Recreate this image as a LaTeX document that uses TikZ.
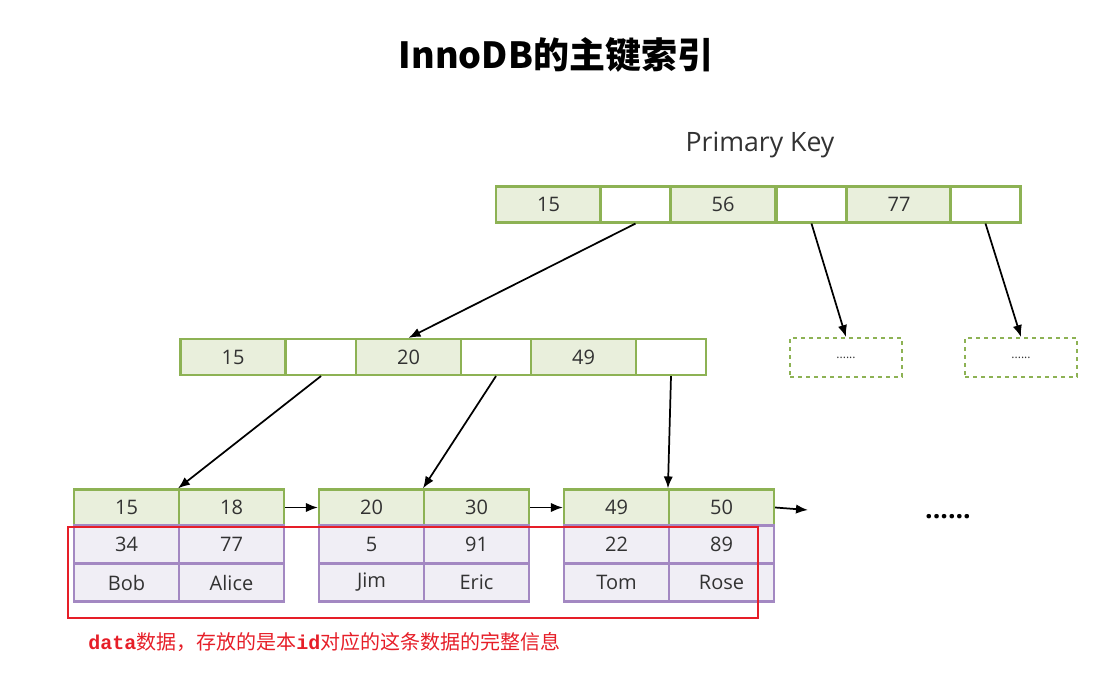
\documentclass[tikz,border=0pt]{standalone}
\usepackage{fontspec}
\setmainfont{Open Sans}
\newfontfamily\cjk{Noto Sans CJK SC}
\newfontfamily\monob{Liberation Mono}
\definecolor{keygreen}{RGB}{141,178,84}
\definecolor{keyfill}{RGB}{233,239,220}
\definecolor{datapurple}{RGB}{163,136,194}
\definecolor{datafill}{RGB}{240,238,245}
\definecolor{textgray}{RGB}{50,50,50}
\definecolor{capred}{RGB}{230,30,40}
\tikzset{
  cell/.style={draw=keygreen, line width=1.6pt, minimum height=27pt, inner sep=0pt,
    text=textgray, font=\fontsize{15}{15}\selectfont},
  key/.style={cell, fill=keyfill, minimum width=78.75pt},
  ptr/.style={cell, fill=white, minimum width=52.5pt},
  data/.style={cell, draw=datapurple, fill=datafill, minimum width=78.75pt, minimum height=28.5pt},
  more/.style={draw=keygreen, dashed, line width=1.6pt, minimum width=84pt, minimum height=29pt,
    font=\small, text=textgray},
  link/.style={-{Latex[length=9pt,width=7pt]}, line width=1.3pt}
}
\usetikzlibrary{arrows.meta}
\begin{document}
\begin{tikzpicture}[x=0.75pt,y=-0.75pt]
  \useasboundingbox (0,0) rectangle (1106,673);
  \node (title) at (556,55) {\cjk\bfseries\fontsize{27}{27}\selectfont InnoDB的主键索引};
  \node[text=textgray] (pk) at (760,145) {\fontsize{20}{20}\selectfont Primary Key};
  % root page
  \node[key] (r1) at (548.5,204.5) {15};
  \node[ptr] (r2) at (635.5,204.5) {};
  \node[key] (r3) at (723,204.5) {56};
  \node[ptr] (r4) at (811.5,204.5) {};
  \node[key] (r5) at (899,204.5) {77};
  \node[ptr] (r6) at (985.5,204.5) {};
  % second level
  \node[key] (m1) at (233,357) {15};
  \node[ptr] (m2) at (321,357) {};
  \node[key] (m3) at (408.5,357) {20};
  \node[ptr] (m4) at (496,357) {};
  \node[key] (m5) at (583.5,357) {49};
  \node[ptr] (m6) at (671,357) {};
  \node[more] (x1) at (846,357.5) {......};
  \node[more] (x2) at (1021,357.5) {......};
  % leaves
  \foreach \n/\x/\ka/\kb/\ia/\ib/\na/\nb in
    {1/74/15/18/34/77/Bob/Alice, 2/319/20/30/5/91/Jim/Eric, 3/564/49/50/22/89/Tom/Rose}
  {
    \node[key] (l\n a) at (\x+52.5,507.5) {\ka};
    \node[key] (l\n b) at (\x+157.5,507.5) {\kb};
    \node[data] (i\n a) at (\x+52.5,544.5) {\ia};
    \node[data] (i\n b) at (\x+157.5,544.5) {\ib};
    \node[data] (n\n a) at (\x+52.5,582.5) {\na};
    \node[data] (n\n b) at (\x+157.5,582.5) {\nb};
  }
  \coordinate (tail) at (808,510);
  \node[font=\fontsize{20}{20}\selectfont\bfseries] (dots) at (948,517) {......};
  % pointers
  \draw[link] (r2.south) -- (m3.north);
  \draw[link] (r4.south) -- (x1.north);
  \draw[link] (r6.south) -- (x2.north);
  \draw[link] (m2.south) -- (l1b.north west);
  \draw[link] (m4.south) -- (l2b.north west);
  \draw[link] (m6.south) -- (l3b.north west);
  \draw[link] (l1b.east) -- (l2a.west);
  \draw[link] (l2b.east) -- (l3a.west);
  \draw[link] (l3b.east) -- (tail);
  % data part
  \draw[capred, line width=1.3pt] (68,527) rectangle (758,618);
  \node[anchor=west, text=capred, inner sep=0pt] (cap) at (88,642)
    {\fontsize{15}{15}\selectfont{\monob\bfseries data}\cjk 数据，存放的是本{\monob\bfseries id}对应的这条数据的完整信息};
\end{tikzpicture}
\end{document}
